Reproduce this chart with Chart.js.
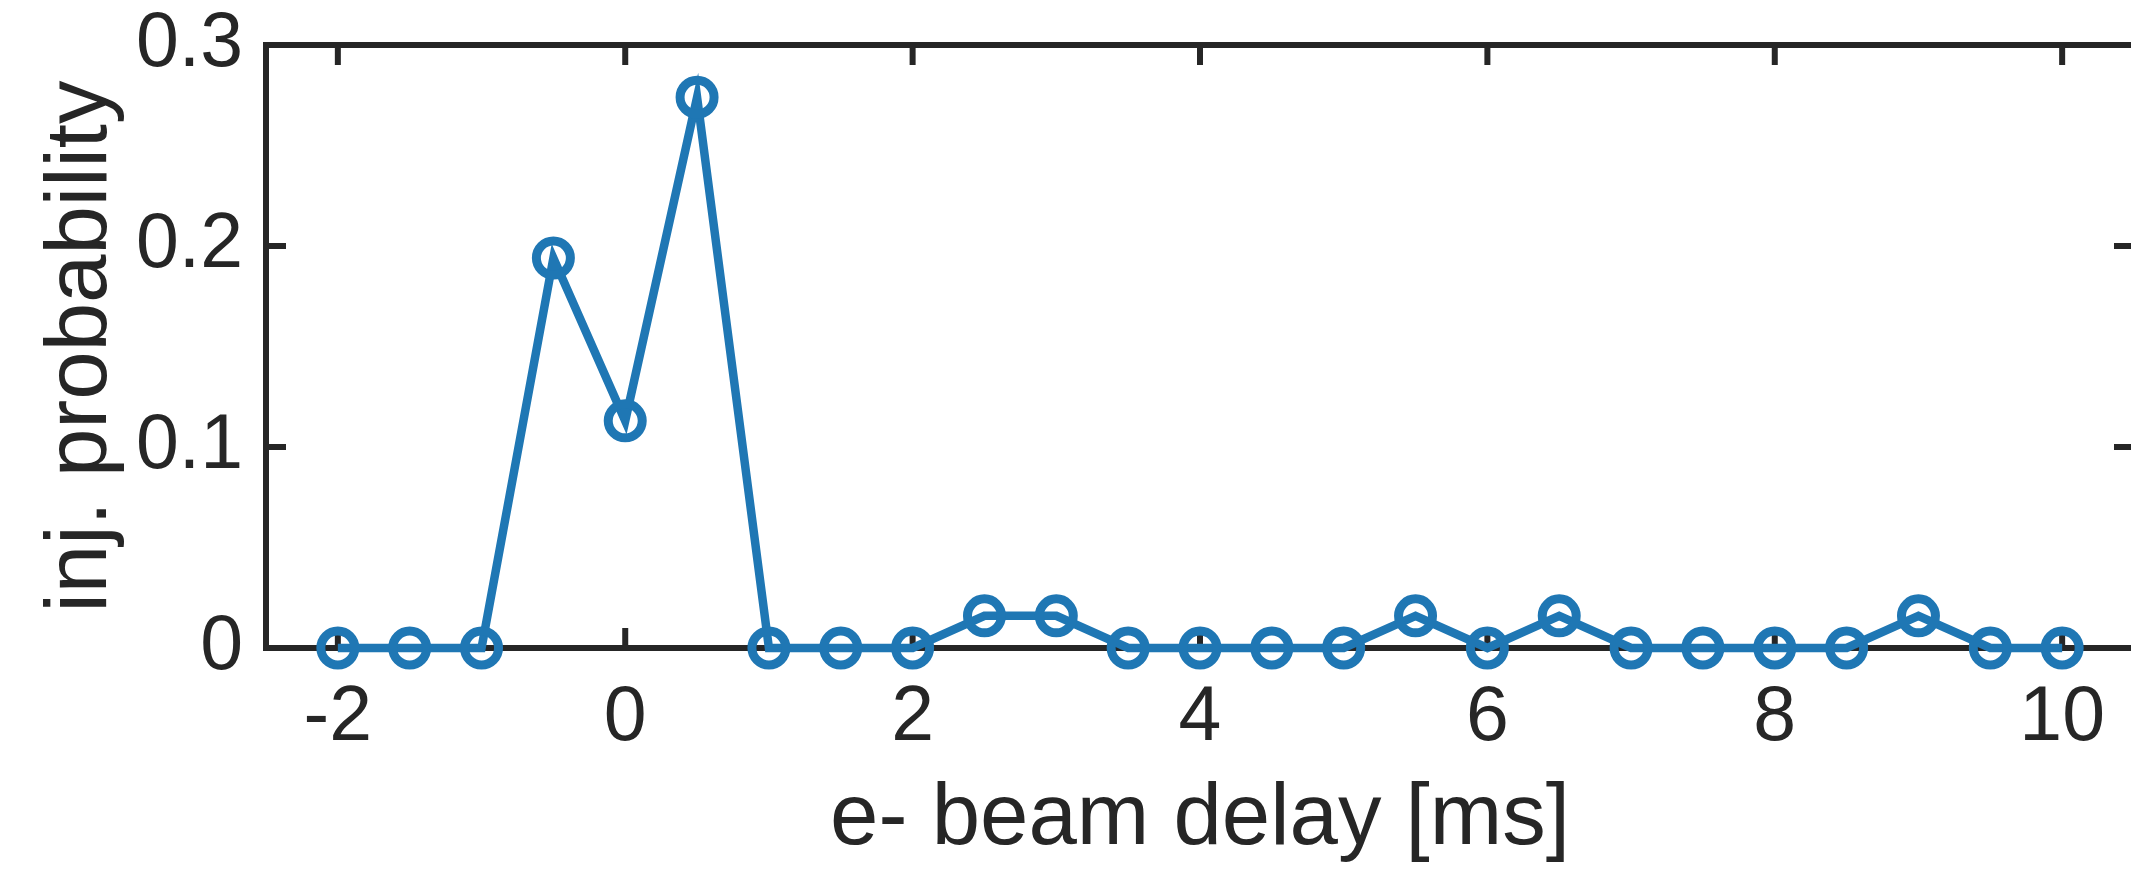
<!DOCTYPE html>
<html>
<head>
<meta charset="utf-8">
<script src="https://cdn.jsdelivr.net/npm/chart.js@4/dist/chart.umd.min.js"></script>
<style>
  html, body { margin: 0; padding: 0; background: #fff; overflow: hidden; }
  #wrap { width: 2160px; height: 869px; }
</style>
</head>
<body>
<div id="wrap"><canvas id="delayChart" width="2160" height="869"></canvas></div>
<script>
// e- beam delay scan, 0.5 ms steps
const delays = [-2, -1.5, -1, -0.5, 0, 0.5, 1, 1.5, 2, 2.5, 3, 3.5, 4, 4.5, 5, 5.5, 6, 6.5, 7, 7.5, 8, 8.5, 9, 9.5, 10];
const injProb = [0, 0, 0, 0.194, 0.113, 0.274, 0, 0, 0, 0.016, 0.016, 0, 0, 0, 0, 0.016, 0, 0.016, 0, 0, 0, 0, 0.016, 0, 0];

const xTicks = [-2, 0, 2, 4, 6, 8, 10];
const yTicks = [0, 0.1, 0.2, 0.3];

const axisColor = '#262626';
const lineColor = '#1f77b4';
const fontFamily = '"Liberation Sans", Arial, Helvetica, sans-serif';

// box around the axes with inward ticks on all four sides
const boxAxes = {
  id: 'boxAxes',
  beforeDatasetsDraw(chart) {
    const { ctx, chartArea: a, scales } = chart;
    const len = 20;
    ctx.save();
    ctx.strokeStyle = axisColor;
    ctx.lineWidth = 6;
    ctx.lineJoin = 'miter';
    ctx.lineCap = 'butt';
    ctx.strokeRect(a.left, a.top, a.right - a.left, a.bottom - a.top);
    ctx.beginPath();
    xTicks.forEach(v => {
      const px = scales.x.getPixelForValue(v);
      ctx.moveTo(px, a.bottom); ctx.lineTo(px, a.bottom - len);
      ctx.moveTo(px, a.top); ctx.lineTo(px, a.top + len);
    });
    yTicks.forEach(v => {
      const py = scales.y.getPixelForValue(v);
      ctx.moveTo(a.left, py); ctx.lineTo(a.left + len, py);
      ctx.moveTo(a.right, py); ctx.lineTo(a.right - len, py);
    });
    ctx.stroke();
    ctx.restore();
  }
};

new Chart(document.getElementById('delayChart'), {
  type: 'line',
  data: {
    datasets: [{
      data: delays.map((d, i) => ({ x: d, y: injProb[i] })),
      borderColor: lineColor,
      borderWidth: 8.5,
      tension: 0,
      pointStyle: 'circle',
      pointRadius: 17,
      pointBorderWidth: 9,
      pointBorderColor: lineColor,
      pointBackgroundColor: 'rgba(0,0,0,0)',
      pointHoverRadius: 17,
      clip: false
    }]
  },
  options: {
    responsive: false,
    animation: false,
    events: [],
    layout: { padding: { top: 45, right: 20, bottom: 0, left: 0 } },
    plugins: { legend: { display: false }, tooltip: { enabled: false } },
    scales: {
      x: {
        type: 'linear',
        min: -2.5,
        max: 10.5,
        afterBuildTicks: s => { s.ticks = xTicks.map(v => ({ value: v })); },
        afterFit: s => { s.height = 221; },
        grid: { display: false, drawTicks: false },
        border: { display: false },
        ticks: { color: axisColor, padding: 25, maxRotation: 0, font: { family: fontFamily, size: 77 } },
        title: {
          display: true,
          text: 'e- beam delay [ms]',
          color: axisColor,
          padding: { top: 0, bottom: 5 },
          font: { family: fontFamily, size: 87, lineHeight: 1 }
        }
      },
      y: {
        min: 0,
        max: 0.3,
        afterBuildTicks: s => { s.ticks = yTicks.map(v => ({ value: v })); },
        afterFit: s => { s.width = 266; },
        grid: { display: false, drawTicks: false },
        border: { display: false },
        ticks: { color: axisColor, padding: 23, font: { family: fontFamily, size: 77, lineHeight: 0.5 } },
        title: {
          display: true,
          text: 'inj. probability',
          color: axisColor,
          padding: { top: 39, bottom: 0 },
          font: { family: fontFamily, size: 87, lineHeight: 1 }
        }
      }
    }
  },
  plugins: [boxAxes]
});
</script>
</body>
</html>
